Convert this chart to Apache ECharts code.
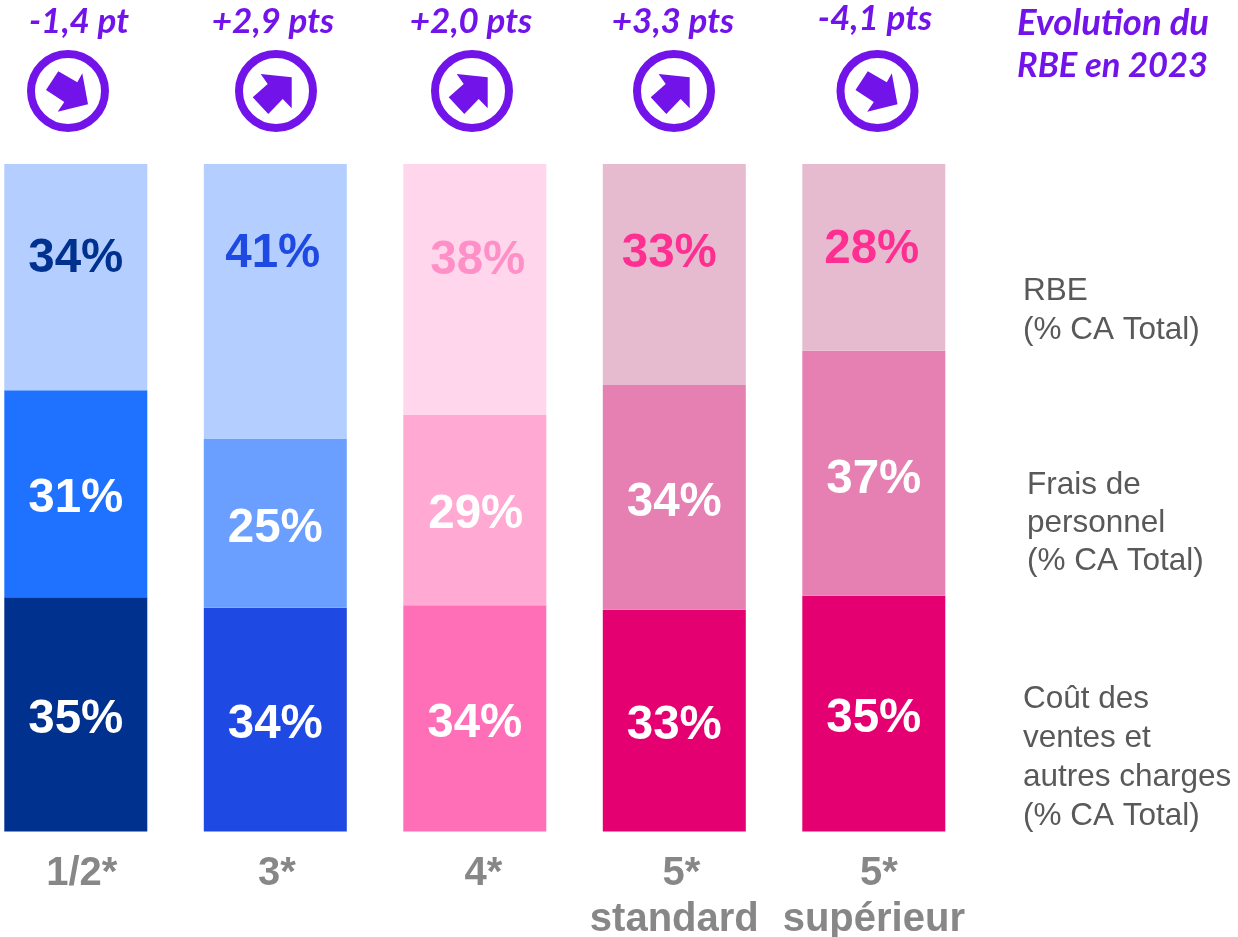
<!DOCTYPE html>
<html><head><meta charset="utf-8">
<style>html,body{margin:0;padding:0;background:#fff}#c{width:1238px;height:937px}</style>
<script src="https://cdn.jsdelivr.net/npm/echarts@6/dist/echarts.min.js"></script>
</head><body><div id="c"></div>
<script>
const categories = ['1/2*','3*','4*','5*\nstandard','5*\nsupérieur'];
const coutValues  = [35.1,33.5,33.9,33.2,35.3];
const fraisValues = [31.0,25.3,28.5,33.7,36.7];
const rbeValues   = [33.9,41.2,37.6,33.1,28.0];
const coutLabels  = ['35%','34%','34%','33%','35%'];
const fraisLabels = ['31%','25%','29%','34%','37%'];
const rbeLabels   = ['34%','41%','38%','33%','28%'];
const coutColors  = ['#00318F','#1E49E2','#FF6FB7','#E50071','#E50071'];
const fraisColors = ['#1F72FF','#6B9FFF','#FFA9D3','#E67FB2','#E67FB2'];
const rbeColors   = ['#B3CEFF','#B3CEFF','#FFD6EC','#E6BBCF','#E6BBCF'];
const rbeTextColors = ['#00318F','#1E49E2','#FF8FC7','#FF2F92','#FF2F92'];
const evolution = ['-1,4 pt','+2,9 pts','+2,0 pts','+3,3 pts','-4,1 pts'];
const evolutionTitle = ['Evolution du','RBE en 2023'];
const legendRbe = ['RBE','(% CA Total)'];
const legendFrais = ['Frais de','personnel','(% CA Total)'];
const legendCout = ['Coût des','ventes et','autres charges','(% CA Total)'];

const coutDy  = [6,5.5,6,5.5,5.5];
const fraisDy = [5.5,5.5,5,5.5,6.5];
const rbeDy   = [-18,-47.5,-28.5,-20.5,-7.5];
const rbeDx   = [0,-2.5,3,-5,-2];
const fraisDx = [0,0,1,0,0];
const zeroDx  = [0,0,0,0,0];

const PURPLE = '#7213EA';
const GREY = '#878787';
const DARK = '#595959';

function seg(name, vals, labels, colors, dx, dy, textColors){
  return {
    name, type:'bar', stack:'t', barWidth:143, silent:true,
    data: vals.map((v,i)=>({
      value:v,
      itemStyle:{color:colors[i]},
      label:{
        show:true, position:'inside', formatter:labels[i],
        offset:[dx[i],dy[i]],
        fontFamily:'Liberation Sans', fontWeight:'bold', fontSize:47.5,
        color: textColors ? textColors[i] : '#fff'
      }
    }))
  };
}

const axisOffsets = [12,3,17,14,10];
const chart = echarts.init(document.getElementById('c'), null, {renderer:'canvas'});

function txt(x,y,text,size,color,opt){
  return Object.assign({type:'text',x,y,silent:true,style:Object.assign({
    text,fontSize:size,fill:color,fontFamily:'Liberation Sans',
    verticalAlign:'middle',align:'left'},opt||{})});
}
const centers = [68,276,472,674,877.5];
const evoX = [79,273,471,673,875];
const evoY = [22,22,22,22,19];
const up = [[15.7,-13.7],[15.7,17.3],[6.7,8],[-7.7,23],[-23.3,6.3],[-8.3,-7],[-15.3,-17]];
const down = [[20,13.3],[14.3,-17.7],[9.3,-8.7],[-9.7,-19.7],[-22,-1],[-3.7,11],[-10.3,20.7]];
const calibri = {fontFamily:'Lato',fontWeight:'bold',fontStyle:'italic'};
const g = [];
evolution.forEach((t,i)=>{
  g.push(txt(evoX[i],evoY[i],t,35,PURPLE,Object.assign({align:'center'},calibri)));
  g.push({type:'circle',x:centers[i],y:91,silent:true,shape:{r:37},style:{fill:'none',stroke:PURPLE,lineWidth:8}});
  g.push({type:'polygon',x:centers[i],y:91,silent:true,shape:{points:t[0]==='-'?down:up},style:{fill:PURPLE}});
});
evolutionTitle.forEach((t,i)=>g.push(txt(1017,23+i*43,t,i===0?36.5:34.5,PURPLE,calibri)));
legendRbe.forEach((t,i)=>g.push(txt(1023,291.5+i*39,t,31.5,DARK)));
legendFrais.forEach((t,i)=>g.push(txt(1027,485.5+i*38,t,31.5,DARK)));
legendCout.forEach((t,i)=>g.push(txt(1023,699.5+i*39,t,31.5,DARK)));

const base = {fontFamily:'Liberation Sans',fontWeight:'bold',fontSize:40,color:GREY,lineHeight:46};
const rich = {s:base};
axisOffsets.forEach((o,i)=>{ rich['l'+i] = Object.assign({},base,{padding:[0,0,0,o]}); });

chart.setOption({
  animation:false,
  backgroundColor:'#fff',
  grid:{left:-23.95,top:164,width:997.5,height:667.4,outerBoundsMode:'none'},
  xAxis:{
    type:'category',data:categories,
    axisLine:{show:false},axisTick:{show:false},
    axisLabel:{
      interval:0,margin:20,verticalAlign:'top',
      formatter:(v,i)=>{
        const p=v.split('\n');
        return p.length>1 ? '{l'+i+'|'+p[0]+'}\n{s|'+p[1]+'}' : '{l'+i+'|'+v+'}';
      },
      rich
    }
  },
  yAxis:{type:'value',min:0,max:100,show:false,splitLine:{show:false}},
  series:[
    seg('Coût des ventes et autres charges',coutValues,coutLabels,coutColors,zeroDx,coutDy),
    seg('Frais de personnel',fraisValues,fraisLabels,fraisColors,fraisDx,fraisDy),
    seg('RBE',rbeValues,rbeLabels,rbeColors,rbeDx,rbeDy,rbeTextColors)
  ],
  graphic:g
});
</script></body></html>
